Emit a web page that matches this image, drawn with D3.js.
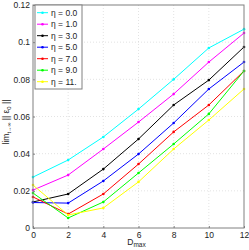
<!DOCTYPE html>
<html>
<head>
<meta charset="utf-8">
<script src="https://d3js.org/d3.v7.min.js"></script>
<style>
body { margin: 0; background: #fff; }
text { font-family: "Liberation Sans", Arial, sans-serif; }
</style>
</head>
<body>
<svg width="249" height="250"></svg>
<script>
// chart data
var dmax = [0, 2, 4, 6, 8, 10, 12];
var etaLabels = ["η = 0.0", "η = 1.0", "η = 3.0", "η = 5.0", "η = 7.0", "η = 9.0", "η = 11."];
var colors = ["#00ffff", "#ff00ff", "#000000", "#0000ff", "#ff0000", "#00ff00", "#ffff00"];
var eta0  = [0.0274, 0.0366, 0.049, 0.064, 0.080, 0.0969, 0.107];
var eta1  = [0.0204, 0.0285, 0.0425, 0.057, 0.0721, 0.0893, 0.1049];
var eta3  = [0.0140, 0.0183, 0.0317, 0.0479, 0.0662, 0.0796, 0.0974];
var eta5  = [0.0137, 0.0134, 0.0253, 0.0398, 0.0565, 0.0748, 0.0893];
var eta7  = [0.0167, 0.0075, 0.0183, 0.0344, 0.0517, 0.0662, 0.0845];
var eta9  = [0.0188, 0.0054, 0.0140, 0.0296, 0.0452, 0.0614, 0.0845];
var eta11 = [0.0231, 0.0070, 0.0108, 0.0248, 0.0425, 0.0581, 0.0748];
var series = [eta0, eta1, eta3, eta5, eta7, eta9, eta11];
var xTicks = [0, 2, 4, 6, 8, 10, 12];
var yTicks = [0, 0.02, 0.04, 0.06, 0.08, 0.1, 0.12];
var yTickLabels = ["0", "0.02", "0.04", "0.06", "0.08", "0.1", "0.12"];

var svg = d3.select("svg");
var pLeft = 33, pRight = 244, pTop = 5, pBottom = 228;

var x = d3.scaleLinear().domain([0, 12]).range([pLeft, pRight]);
var y = d3.scaleLinear().domain([0, 0.12]).range([pBottom, pTop]);

// grid
svg.append("g").selectAll("line").data(xTicks.slice(1, -1)).enter().append("line")
    .attr("x1", function(d) { return x(d); }).attr("x2", function(d) { return x(d); })
    .attr("y1", pTop).attr("y2", pBottom)
    .attr("stroke", "#d0d0d0").attr("stroke-width", 0.6).attr("stroke-dasharray", "1,2");
svg.append("g").selectAll("line").data(yTicks.slice(1, -1)).enter().append("line")
    .attr("y1", function(d) { return y(d); }).attr("y2", function(d) { return y(d); })
    .attr("x1", pLeft).attr("x2", pRight)
    .attr("stroke", "#d0d0d0").attr("stroke-width", 0.6).attr("stroke-dasharray", "1,2");

// lines
var line = d3.line()
    .x(function(d, i) { return x(dmax[i]); })
    .y(function(d) { return y(d); });

series.forEach(function(s, k) {
    svg.append("path")
        .datum(s)
        .attr("d", line)
        .attr("fill", "none")
        .attr("stroke", colors[k])
        .attr("stroke-width", 1);
    svg.append("g").selectAll("circle").data(s).enter().append("circle")
        .attr("cx", function(d, i) { return x(dmax[i]); })
        .attr("cy", function(d) { return y(d); })
        .attr("r", 1.3)
        .attr("fill", colors[k]);
});

// axes box
svg.append("rect")
    .attr("x", pLeft).attr("y", pTop)
    .attr("width", pRight - pLeft).attr("height", pBottom - pTop)
    .attr("fill", "none").attr("stroke", "#808080").attr("stroke-width", 1);

// ticks
var xAxis = d3.axisBottom(x).tickValues(xTicks).tickSize(2).tickSizeOuter(0)
    .tickFormat(d3.format("d"));
var gx = svg.append("g").attr("transform", "translate(0," + pBottom + ")").call(xAxis);
gx.select(".domain").remove();
gx.selectAll("line").attr("stroke", "#808080").attr("transform", "translate(0,-2)");
gx.selectAll("text").attr("font-size", 8.5).attr("fill", "#222").attr("y", 4).attr("dy", "0.71em");

var yAxis = d3.axisLeft(y).tickValues(yTicks).tickSize(2).tickSizeOuter(0)
    .tickFormat(function(d, i) { return yTickLabels[i]; });
var gy = svg.append("g").attr("transform", "translate(" + pLeft + ",0)").call(yAxis);
gy.select(".domain").remove();
gy.selectAll("line").attr("stroke", "#808080").attr("transform", "translate(2,0)");
gy.selectAll("text").attr("font-size", 8.5).attr("fill", "#222").attr("x", -3);

// axis labels
var xl = svg.append("text").attr("x", x(6) - 2).attr("y", 245)
    .attr("text-anchor", "middle").attr("font-size", 8.5).attr("fill", "#222");
xl.append("tspan").text("D");
xl.append("tspan").attr("font-size", 6.5).attr("dy", 2).text("max");

var yl = svg.append("text")
    .attr("transform", "translate(9," + 122 + ") rotate(-90)")
    .attr("text-anchor", "middle").attr("font-size", 8.5).attr("fill", "#222");
yl.append("tspan").text("lim");
yl.append("tspan").attr("font-size", 5.5).attr("dy", 2).text("t→∞");
yl.append("tspan").attr("dy", -2).text(" || ε");
yl.append("tspan").attr("font-size", 6).attr("dy", 2).text("0");
yl.append("tspan").attr("dy", -2).text(" ||");

// legend
var lg = svg.append("g");
lg.append("rect")
    .attr("x", 35).attr("y", 5).attr("width", 47).attr("height", 84)
    .attr("fill", "#fff").attr("stroke", "#808080").attr("stroke-width", 1);
etaLabels.forEach(function(lab, k) {
    var yy = 12.7 + k * 11.5;
    lg.append("line").attr("x1", 37).attr("x2", 48).attr("y1", yy).attr("y2", yy)
        .attr("stroke", colors[k]).attr("stroke-width", 1);
    lg.append("circle").attr("cx", 42.5).attr("cy", yy).attr("r", 1.3).attr("fill", colors[k]);
    lg.append("text").attr("x", 51).attr("y", yy).attr("dy", "0.35em")
        .attr("font-size", 8.5).attr("fill", "#222").text(lab);
});
</script>
</body>
</html>
